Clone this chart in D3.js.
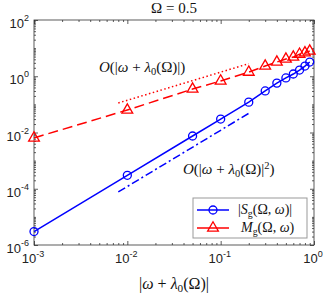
<!DOCTYPE html>
<html>
<head>
<meta charset="utf-8">
<script src="https://cdn.jsdelivr.net/npm/d3@7"></script>
<style>
  body { margin: 0; background: #fff; }
  svg { display: block; }
</style>
</head>
<body>
<div id="chart"></div>
<script>
// data
const xVals = [0.001, 0.01, 0.05, 0.1, 0.2, 0.3, 0.4, 0.5, 0.6, 0.7, 0.8, 0.9];
const sgVals = [3e-6, 3e-4, 7.5e-3, 0.03, 0.12, 0.3, 0.57, 0.87, 1.2, 1.66, 2.3, 3.2];
const mgVals = [6.4e-3, 0.063, 0.35, 0.68, 1.4, 2.3, 3.2, 4.1, 4.8, 6.1, 6.8, 7.9];
const refX = [0.008, 0.2];
const refLinear = [0.112, 2.8];
const refQuad = [7.7e-5, 0.048];
const xTicks = [1e-3, 1e-2, 1e-1, 1e0];
const xTickExp = ["-3", "-2", "-1", "0"];
const yTicks = [1e-6, 1e-4, 1e-2, 1e0, 1e2];
const yTickExp = ["-6", "-4", "-2", "0", "2"];

const margin = { top: 20, right: 13, bottom: 49, left: 34 };
const width = 327 - margin.left - margin.right;
const height = 294 - margin.top - margin.bottom;

const svg = d3.select("#chart").append("svg")
    .attr("width", 327)
    .attr("height", 294);
const g = svg.append("g")
    .attr("transform", `translate(${margin.left},${margin.top})`);

const x = d3.scaleLog().domain([1e-3, 1]).range([0, width]);
const y = d3.scaleLog().domain([1e-6, 1e2]).range([height, 0]);

// minor tick values for log axes
function minors(lo, hi, majors) {
    let out = [];
    for (let e = lo; e < hi; e++) {
        for (let k = 1; k <= 9; k++) {
            let v = k * Math.pow(10, e);
            if (!majors.some(m => Math.abs(m - v) / v < 1e-9)) out.push(v);
        }
    }
    return out;
}
const xMinor = minors(-3, 0, xTicks);
const yMinor = minors(-6, 2, yTicks);

const axisColor = "#333";
function styleAxis(sel) {
    sel.select(".domain").remove();
    sel.selectAll("line").attr("stroke", axisColor).attr("stroke-width", 0.8);
}

g.append("g").attr("transform", `translate(0,${height})`)
    .call(d3.axisBottom(x).tickValues(xTicks).tickSize(-4).tickFormat("")).call(styleAxis);
g.append("g").attr("transform", `translate(0,${height})`)
    .call(d3.axisBottom(x).tickValues(xMinor).tickSize(-2).tickFormat("")).call(styleAxis);
g.append("g")
    .call(d3.axisTop(x).tickValues(xTicks).tickSize(-4).tickFormat("")).call(styleAxis);
g.append("g")
    .call(d3.axisTop(x).tickValues(xMinor).tickSize(-2).tickFormat("")).call(styleAxis);
g.append("g")
    .call(d3.axisLeft(y).tickValues(yTicks).tickSize(-4).tickFormat("")).call(styleAxis);
g.append("g")
    .call(d3.axisLeft(y).tickValues(yMinor).tickSize(-2).tickFormat("")).call(styleAxis);
g.append("g").attr("transform", `translate(${width},0)`)
    .call(d3.axisRight(y).tickValues(yTicks).tickSize(-4).tickFormat("")).call(styleAxis);
g.append("g").attr("transform", `translate(${width},0)`)
    .call(d3.axisRight(y).tickValues(yMinor).tickSize(-2).tickFormat("")).call(styleAxis);

g.append("rect")
    .attr("width", width).attr("height", height)
    .attr("fill", "none").attr("stroke", axisColor).attr("stroke-width", 0.8);

// tick labels with superscripts
const sans = "'Liberation Sans', Arial, sans-serif";
xTicks.forEach((v, i) => {
    let t = g.append("text")
        .attr("x", x(v) - 1)
        .attr("y", height + 18)
        .attr("text-anchor", "middle")
        .attr("font-family", sans)
        .attr("font-size", 13)
        .attr("fill", "#222");
    t.append("tspan").text("10");
    t.append("tspan").attr("font-size", 9).attr("dy", -6).text(xTickExp[i]);
});
yTicks.forEach((v, i) => {
    let t = g.append("text")
        .attr("x", -5)
        .attr("y", y(v) + 8)
        .attr("text-anchor", "end")
        .attr("font-family", sans)
        .attr("font-size", 13)
        .attr("fill", "#222");
    t.append("tspan").text("10");
    t.append("tspan").attr("font-size", 9).attr("dy", -7).text(yTickExp[i]);
});

// math text helper: segments of [text, kind]
const serif = "'Liberation Serif', 'DejaVu Serif', serif";
function mathText(parent, px, py, segs, size, anchor) {
    let t = parent.append("text")
        .attr("x", px).attr("y", py)
        .attr("text-anchor", anchor || "start")
        .attr("font-family", serif)
        .attr("font-size", size)
        .attr("fill", "#111");
    let shift = 0;
    segs.forEach(([txt, kind]) => {
        let s = t.append("tspan").text(txt);
        let target = 0;
        if (kind === "i") s.attr("font-style", "italic");
        if (kind === "sub") { s.attr("font-size", size * 0.7); target = 3; }
        if (kind === "sup") { s.attr("font-size", size * 0.7); target = -5; }
        if (target !== shift) { s.attr("dy", target - shift); shift = target; }
    });
    return t;
}

// title and axis label
mathText(svg, margin.left + width / 2, 13, [["Ω = 0.5", ""]], 15, "middle");
mathText(svg, margin.left + width / 2, 289, [["|", ""], ["ω", "i"], [" + ", ""], ["λ", "i"], ["0", "sub"], ["(Ω)|", ""]], 16, "middle");

// reference slopes
const line = d3.line().x(d => x(d[0])).y(d => y(d[1]));
g.append("path")
    .attr("d", line(d3.zip(refX, refLinear)))
    .attr("fill", "none").attr("stroke", "#ff0000")
    .attr("stroke-width", 1.5).attr("stroke-dasharray", "1.5 2.5");
g.append("path")
    .attr("d", line(d3.zip(refX, refQuad)))
    .attr("fill", "none").attr("stroke", "#0000ff")
    .attr("stroke-width", 1.5).attr("stroke-dasharray", "8 3 2 3");

// series
const sgData = d3.zip(xVals, sgVals);
const mgData = d3.zip(xVals, mgVals);
g.append("path")
    .attr("d", line(mgData))
    .attr("fill", "none").attr("stroke", "#ff0000")
    .attr("stroke-width", 1.5).attr("stroke-dasharray", "10 5");
g.append("path")
    .attr("d", line(sgData))
    .attr("fill", "none").attr("stroke", "#0000ff")
    .attr("stroke-width", 1.5);

const tri = d3.symbol().type(d3.symbolTriangle).size(50);
g.selectAll("path.mg").data(mgData).enter().append("path")
    .attr("class", "mg")
    .attr("d", tri)
    .attr("transform", d => `translate(${x(d[0])},${y(d[1])})`)
    .attr("fill", "none").attr("stroke", "#ff0000").attr("stroke-width", 1.3);
g.selectAll("circle.sg").data(sgData).enter().append("circle")
    .attr("class", "sg")
    .attr("cx", d => x(d[0])).attr("cy", d => y(d[1]))
    .attr("r", 4)
    .attr("fill", "none").attr("stroke", "#0000ff").attr("stroke-width", 1.3);

// annotations
mathText(svg, 99, 72, [["O", "i"], ["(|", ""], ["ω", "i"], [" + ", ""], ["λ", "i"], ["0", "sub"], ["(Ω)|)", ""]], 15);
mathText(svg, 183, 174, [["O", "i"], ["(|", ""], ["ω", "i"], [" + ", ""], ["λ", "i"], ["0", "sub"], ["(Ω)|", ""], ["2", "sup"], [")", ""]], 15);

// legend
const leg = svg.append("g").attr("transform", "translate(193,198)");
leg.append("rect")
    .attr("width", 114).attr("height", 40)
    .attr("fill", "#fff").attr("stroke", "#999").attr("stroke-width", 1);
leg.append("line").attr("x1", 4).attr("x2", 36).attr("y1", 12).attr("y2", 12)
    .attr("stroke", "#0000ff").attr("stroke-width", 1.5);
leg.append("circle").attr("cx", 20).attr("cy", 12).attr("r", 4)
    .attr("fill", "none").attr("stroke", "#0000ff").attr("stroke-width", 1.3);
leg.append("line").attr("x1", 4).attr("x2", 36).attr("y1", 30).attr("y2", 30)
    .attr("stroke", "#ff0000").attr("stroke-width", 1.5);
leg.append("path").attr("d", tri).attr("transform", "translate(20,30)")
    .attr("fill", "none").attr("stroke", "#ff0000").attr("stroke-width", 1.3);
mathText(leg, 45, 16, [["|", ""], ["S", "i"], ["g", "sub"], ["(Ω, ", ""], ["ω", "i"], [")|", ""]], 14);
mathText(leg, 48, 34, [["M", "i"], ["g", "sub"], ["(Ω, ", ""], ["ω", "i"], [")", ""]], 14);
</script>
</body>
</html>
